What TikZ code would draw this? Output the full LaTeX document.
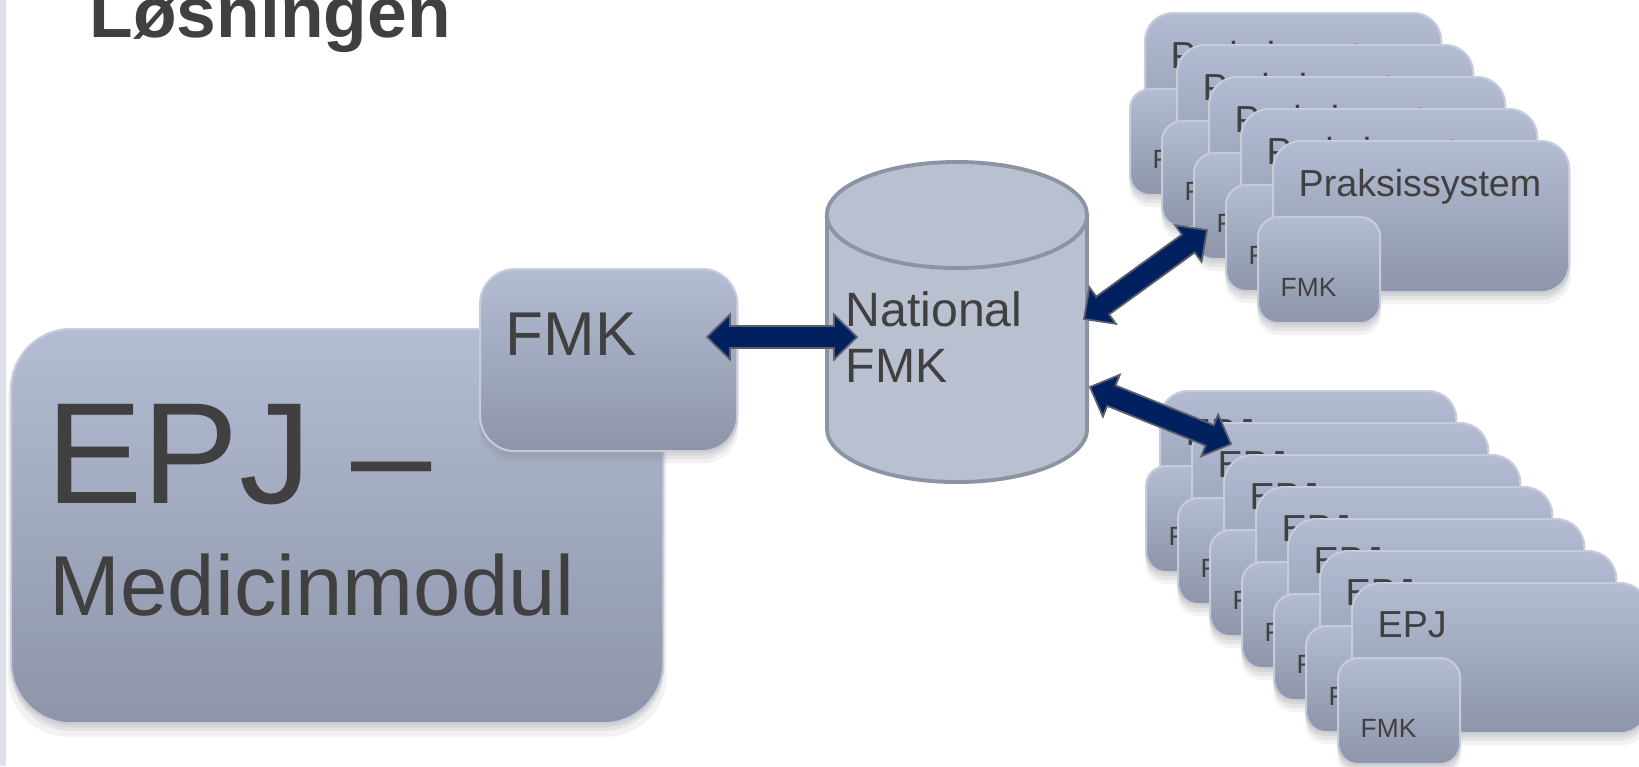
\documentclass[tikz,border=0pt]{standalone}
\usepackage{fontspec}
\setmainfont{Liberation Sans}
\usetikzlibrary{calc,shadows}
\definecolor{textgray}{HTML}{404040}
\definecolor{boxtop}{HTML}{B3BCD3}
\definecolor{boxbot}{HTML}{8E95A9}
\definecolor{boxedge}{HTML}{C6CCDC}
\definecolor{navy}{HTML}{002060}
\definecolor{arrowedge}{HTML}{5A5F6A}
\definecolor{leftbar}{HTML}{DDE1EA}
\definecolor{cylfill}{HTML}{B9C0D0}
\definecolor{cyledge}{HTML}{8C93A3}
\tikzset{
  gbox/.style={draw=boxedge, line width=0.6pt, top color=boxtop, bottom color=boxbot,
    inner sep=0pt, anchor=north west,
    drop shadow={opacity=0.10, shadow xshift=0pt, shadow yshift=-3.2pt, shadow scale=1.01},
    drop shadow={opacity=0.12, shadow xshift=0pt, shadow yshift=-2.2pt},
    drop shadow={opacity=0.12, shadow xshift=0pt, shadow yshift=-1.2pt}},
  bigpanel/.style={gbox, rounded corners=0.6cm, minimum width=6.52cm, minimum height=3.94cm},
  fmkpanel/.style={gbox, rounded corners=0.35cm, minimum width=2.57cm, minimum height=1.82cm},
  stackbox/.style={gbox, rounded corners=0.28cm, minimum width=2.96cm, minimum height=1.51cm},
  stackfmk/.style={gbox, rounded corners=0.2cm, minimum width=1.22cm, minimum height=1.06cm},
  lbl/.style={inner sep=0pt, anchor=base west, text=textgray},
  arrowsty/.style={fill=navy, draw=arrowedge, line width=0.5pt, line join=miter},
  cylsty/.style={fill=cylfill, draw=cyledge, line width=1.1pt},
}
\newcommand\dblarrow[2]{%
  \coordinate (h1) at ($(#1)!0.23cm!(#2)$);
  \coordinate (h2) at ($(#2)!0.23cm!(#1)$);
  \filldraw[arrowsty] (#1) -- ($(h1)!0.225cm!90:(#2)$) -- ($(h1)!0.11cm!90:(#2)$)
    -- ($(h2)!0.11cm!-90:(#1)$) -- ($(h2)!0.225cm!-90:(#1)$) -- (#2)
    -- ($(h2)!0.225cm!90:(#1)$) -- ($(h2)!0.11cm!90:(#1)$)
    -- ($(h1)!0.11cm!-90:(#2)$) -- ($(h1)!0.225cm!-90:(#2)$) -- cycle;}
\begin{document}
\begin{tikzpicture}[x=0.01cm,y=-0.01cm]
\clip (0,0) rectangle (1639,766);
\fill[white] (0,0) rectangle (1639,766);
\fill[leftbar] (0,0) rectangle (6,766);

% title
\node[lbl, font=\bfseries\fontsize{20.3}{24}\selectfont] (title) at (89,37) {Løsningen};

% EPJ - Medicinmodul
\node[bigpanel] (epj) at (10,328) {};
\node[lbl, font=\fontsize{41}{48}\selectfont] (epjt) at (46,503) {EPJ –};
\node[lbl, font=\fontsize{24.2}{28}\selectfont] (medt) at (49,615) {Medicinmodul};
\node[fmkpanel] (fmk) at (479,268) {};
\node[lbl, font=\fontsize{17.6}{20}\selectfont] (fmkt) at (505,355) {FMK};

% National FMK cylinder
\coordinate (cyltl) at (827,215);
\coordinate (cylbl) at (827,429);
\coordinate (cyltr) at (1087,215);
\path[cylsty] (cyltl) -- (cylbl) arc[start angle=180,end angle=360,x radius=1.30cm,y radius=0.53cm]
  -- (cyltr) arc[start angle=0,end angle=180,x radius=1.30cm,y radius=0.53cm] -- cycle;
\draw[cyledge, line width=1.1pt] (cyltl) arc[start angle=180,end angle=360,x radius=1.30cm,y radius=0.53cm];

% Praksissystem stack
\foreach \i in {0,...,4}{
  \node[stackbox] (ps\i) at ({1144+32*\i},{12+32*\i}) {};
  \node[lbl, font=\fontsize{10.7}{12}\selectfont] (pst\i) at ($(ps\i.north west)+(26,56)$) {Praksissystem};
  \node[stackfmk] (pf\i) at ($(ps\i.north west)+(-15,76)$) {};
  \node[lbl, font=\fontsize{7.5}{9}\selectfont] (pft\i) at ($(pf\i.north west)+(23,80)$) {FMK};
}

% EPJ stack
\foreach \i in {0,...,6}{
  \node[stackbox, minimum height=1.50cm] (es\i) at ({1159+32*\i},{390+32*\i}) {};
  \node[lbl, font=\fontsize{10.7}{12}\selectfont] (est\i) at ($(es\i.north west)+(26,55)$) {EPJ};
  \node[stackfmk] (ef\i) at ($(es\i.north west)+(-14,75)$) {};
  \node[lbl, font=\fontsize{7.5}{9}\selectfont] (eft\i) at ($(ef\i.north west)+(23,80)$) {FMK};
}

% arrows
\coordinate (a1l) at (707,337);
\coordinate (a1r) at (857,337);
\coordinate (a2l) at (1084,319);
\coordinate (a2r) at (1207,230);
\coordinate (a3l) at (1090,387);
\coordinate (a3r) at (1231,444);
\dblarrow{a1l}{a1r}
\dblarrow{a2l}{a2r}
\dblarrow{a3l}{a3r}

\node[lbl, font=\fontsize{13.7}{16}\selectfont] (natt) at (845,326) {National};
\node[lbl, font=\fontsize{13.7}{16}\selectfont] (natf) at (845,382) {FMK};
\end{tikzpicture}
\end{document}
